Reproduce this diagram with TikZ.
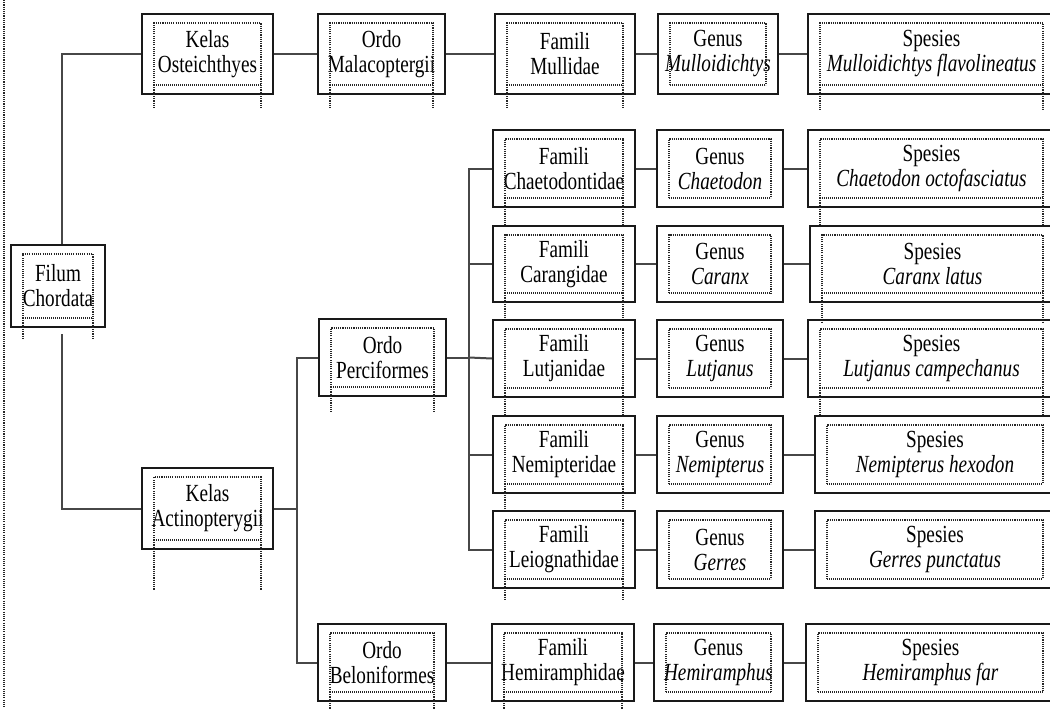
\documentclass[tikz,border=0pt]{standalone}
\usepackage{fontspec}
\setmainfont{Liberation Serif}[FakeStretch=0.78]
\usetikzlibrary{calc}
\newcommand\tbox[7]{%
  \node[obox, minimum width={(#4-#2)*0.5pt}, minimum height={(#5-#3)*0.5pt}] (#1) at ({(#2+#4)/2},{(#3+#5)/2}) {#7};
  \draw[dots] (#2+12,#5-9) -- (#2+12,#3+9) -- (#4-12,#3+9) -- (#4-12,#5-9);
  \draw[dotsb] (#2+12,#5-9) -- (#4-12,#5-9);
  \ifnum#6>0 \draw[dots] (#2+12,#5-9) -- (#2+12,#6); \draw[dots] (#4-12,#5-9) -- (#4-12,#6);\fi
}
\begin{document}
\begin{tikzpicture}[x=0.5pt,y=-0.5pt,
  obox/.style={draw=black!90, line width=1pt, inner sep=0pt, align=center, font=\fontsize{12.3}{12.5}\selectfont},
  dots/.style={draw=black!85, line width=0.65pt, dash pattern=on 0.55pt off 0.55pt},
  dotsb/.style={draw=black!85, line width=1.3pt, dash pattern=on 0.5pt off 0.5pt},
  conn/.style={draw=black!72, line width=1pt}]
\useasboundingbox (0,0) rectangle (1050,708);
\fill[white] (0,0) rectangle (1050,708);
\clip (0,0) rectangle (1050,708);
\draw[dots] (4,0) -- (4,708);
% root and classes
\tbox{filum}{11}{245}{105}{327}{338}{Filum\\Chordata}
\tbox{ost}{142}{14}{273}{94}{108}{Kelas\\Osteichthyes}
\tbox{act}{142}{468}{273}{549}{590}{Kelas\\Actinopterygii}
% row A
\tbox{mala}{318}{14}{445}{94}{108}{Ordo\\Malacoptergii}
\tbox{mull}{495}{14}{635}{94}{108}{Famili\\Mullidae}
\tbox{genM}{658}{14}{778}{94}{0}{Genus\\\textit{Mulloidichtys}}
\tbox{spM}{808}{14}{1055}{94}{110}{Spesies\\\textit{Mulloidichtys flavolineatus}}
% orders
\tbox{perc}{319}{319}{446}{396}{412}{Ordo\\Perciformes}
\tbox{belo}{318}{624}{446}{701}{710}{Ordo\\Beloniformes}
% families, genera, species
\tbox{chae}{493}{130}{635}{207}{226}{Famili\\Chaetodontidae}
\tbox{genC}{657}{130}{783}{207}{0}{Genus\\\textit{Chaetodon}}
\tbox{spC}{808}{130}{1055}{207}{226}{Spesies\\\textit{Chaetodon octofasciatus}}
\tbox{cara}{493}{226}{635}{302}{320}{Famili\\Carangidae}
\tbox{genCa}{657}{226}{783}{302}{0}{Genus\\\textit{Caranx}}
\tbox{spCa}{810}{226}{1055}{302}{322}{Spesies\\\textit{Caranx latus}}
\tbox{lutj}{493}{320}{635}{397}{416}{Famili\\Lutjanidae}
\tbox{genL}{657}{320}{783}{397}{0}{Genus\\\textit{Lutjanus}}
\tbox{spL}{808}{320}{1055}{397}{416}{Spesies\\\textit{Lutjanus campechanus}}
\tbox{nemi}{493}{416}{635}{493}{511}{Famili\\Nemipteridae}
\tbox{genN}{657}{416}{783}{493}{0}{Genus\\\textit{Nemipterus}}
\tbox{spN}{815}{416}{1055}{493}{0}{Spesies\\\textit{Nemipterus hexodon}}
\tbox{leio}{493}{511}{635}{588}{600}{Famili\\Leiognathidae}
\tbox{genG}{657}{511}{783}{588}{0}{Genus\\\textit{Gerres}}
\tbox{spG}{815}{511}{1055}{588}{0}{Spesies\\\textit{Gerres punctatus}}
\tbox{hemi}{492}{624}{634}{701}{710}{Famili\\Hemiramphidae}
\tbox{genH}{654}{624}{783}{701}{0}{Genus\\\textit{Hemiramphus}}
\tbox{spH}{806}{624}{1055}{701}{0}{Spesies\\\textit{Hemiramphus far}}
% connectors
\coordinate (jA) at (297,508.5);
\coordinate (jB) at (469,357.5);
\draw[conn] ($(filum.north)+(4,0)$) |- (ost.west);
\draw[conn] ($(filum.south)+(4,6)$) |- (act.west);
\draw[conn] (ost.east) -- (mala.west);
\draw[conn] (mala.east) -- (mull.west);
\draw[conn] (mull.east) -- (genM.west);
\draw[conn] (genM.east) -- (spM.west);
\draw[conn] (act.east) -- (jA);
\draw[conn] (perc.west) -| (jA) |- (belo.west);
\draw[conn] (perc.east) -- (jB);
\draw[conn] (chae.west) -| (jB) |- (leio.west);
\draw[conn] (jB |- cara.west) -- (cara.west);
\draw[conn] (jB |- nemi.west) -- (nemi.west);
\draw[conn] (jB) -- (lutj.west);
\draw[conn] (belo.east) -- (hemi.west);
\draw[conn] (chae.east) -- (genC.west);
\draw[conn] (genC.east) -- (spC.west);
\draw[conn] (cara.east) -- (genCa.west);
\draw[conn] (genCa.east) -- (spCa.west);
\draw[conn] (lutj.east) -- (genL.west);
\draw[conn] (genL.east) -- (spL.west);
\draw[conn] (nemi.east) -- (genN.west);
\draw[conn] (genN.east) -- (spN.west);
\draw[conn] (leio.east) -- (genG.west);
\draw[conn] (genG.east) -- (spG.west);
\draw[conn] (hemi.east) -- (genH.west);
\draw[conn] (genH.east) -- (spH.west);
\end{tikzpicture}
\end{document}
